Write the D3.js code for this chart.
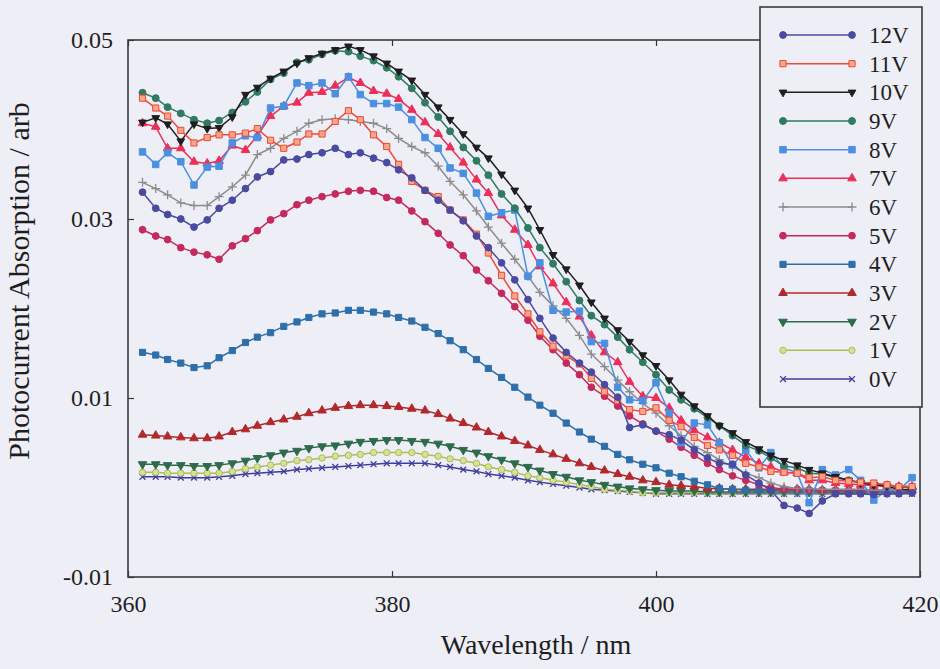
<!DOCTYPE html>
<html>
<head>
<meta charset="utf-8">
<script src="https://cdn.jsdelivr.net/npm/d3@7"></script>
<style>
  body { margin: 0; background: #eeeef7; }
  svg { display: block; }
  text { font-family: "Liberation Serif", "DejaVu Serif", serif; fill: #1e1e1e; }
</style>
</head>
<body>
<div id="chart"></div>
<script>
// wavelength of each sample (nm)
const wavelengths = [
  361.1, 362.1, 363.0, 364.0, 365.0, 366.0, 366.9, 367.9, 368.9, 369.8,
  370.8, 371.8, 372.8, 373.7, 374.7, 375.7, 376.7, 377.6, 378.6, 379.6,
  380.5, 381.5, 382.5, 383.5, 384.4, 385.4, 386.4, 387.3, 388.3, 389.3,
  390.3, 391.2, 392.2, 393.2, 394.2, 395.1, 396.1, 397.1, 398.0, 399.0,
  400.0, 401.0, 401.9, 402.9, 403.9, 404.8, 405.8, 406.8, 407.8, 408.7,
  409.7, 410.7, 411.6, 412.6, 413.6, 414.6, 415.5, 416.5, 417.5, 418.4,
  419.4
];

// photocurrent absorption, one array per bias voltage
const v12 = [
  0.0330, 0.0312, 0.0305, 0.0300, 0.0291, 0.0299, 0.0312, 0.0321, 0.0334, 0.0347,
  0.0353, 0.0366, 0.0367, 0.0372, 0.0374, 0.0379, 0.0372, 0.0374, 0.0368, 0.0363,
  0.0355, 0.0346, 0.0332, 0.0321, 0.0310, 0.0298, 0.0281, 0.0268, 0.0251, 0.0232,
  0.0210, 0.0189, 0.0167, 0.0151, 0.0139, 0.0129, 0.0115, 0.0101, 0.0067, 0.0070,
  0.0063, 0.0059, 0.0053, 0.0042, 0.0033, 0.0027, 0.0026, 0.0014, 0.0005, -0.0003,
  -0.0020, -0.0023, -0.0029, -0.0015, -0.0007, -0.0007, -0.0007, -0.0008, -0.0007, -0.0007,
  -0.0006
];
const v11 = [
  0.0435, 0.0424, 0.0415, 0.0399, 0.0385, 0.0391, 0.0394, 0.0394, 0.0396, 0.0401,
  0.0388, 0.0379, 0.0386, 0.0395, 0.0395, 0.0409, 0.0421, 0.0411, 0.0394, 0.0381,
  0.0361, 0.0342, 0.0332, 0.0325, 0.0310, 0.0299, 0.0283, 0.0262, 0.0237, 0.0214,
  0.0194, 0.0174, 0.0158, 0.0147, 0.0138, 0.0122, 0.0107, 0.0097, 0.0087, 0.0085,
  0.0089, 0.0075, 0.0068, 0.0056, 0.0047, 0.0042, 0.0036, 0.0027, 0.0023, 0.0018,
  0.0017, 0.0016, 0.0011, 0.0012, 0.0008, 0.0007, 0.0006, 0.0005, 0.0003, 0.0001,
  0.0001
];
const v10 = [
  0.0408, 0.0413, 0.0406, 0.0387, 0.0406, 0.0401, 0.0402, 0.0414, 0.0439, 0.0447,
  0.0457, 0.0465, 0.0474, 0.0480, 0.0485, 0.0489, 0.0493, 0.0489, 0.0482, 0.0474,
  0.0465, 0.0455, 0.0439, 0.0425, 0.0411, 0.0395, 0.0380, 0.0368, 0.0350, 0.0332,
  0.0312, 0.0288, 0.0260, 0.0244, 0.0226, 0.0207, 0.0189, 0.0176, 0.0163, 0.0148,
  0.0136, 0.0120, 0.0104, 0.0091, 0.0080, 0.0069, 0.0061, 0.0051, 0.0043, 0.0036,
  0.0030, 0.0025, 0.0020, 0.0016, 0.0012, 0.0008, 0.0005, 0.0003, 0.0001, -0.0002,
  -0.0003
];
const v9 = [
  0.0441, 0.0435, 0.0425, 0.0418, 0.0411, 0.0407, 0.0410, 0.0419, 0.0431, 0.0442,
  0.0456, 0.0463, 0.0475, 0.0478, 0.0484, 0.0488, 0.0487, 0.0482, 0.0477, 0.0469,
  0.0459, 0.0446, 0.0430, 0.0414, 0.0398, 0.0380, 0.0365, 0.0349, 0.0328, 0.0312,
  0.0290, 0.0268, 0.0250, 0.0230, 0.0209, 0.0192, 0.0182, 0.0168, 0.0154, 0.0140,
  0.0126, 0.0109, 0.0098, 0.0088, 0.0078, 0.0069, 0.0058, 0.0047, 0.0041, 0.0033,
  0.0024, 0.0022, 0.0016, 0.0015, 0.0011, 0.0008, 0.0006, 0.0004, 0.0003, 0.0001,
  -0.0001
];
const v8 = [
  0.0375, 0.0361, 0.0374, 0.0364, 0.0338, 0.0358, 0.0359, 0.0385, 0.0393, 0.0391,
  0.0424, 0.0426, 0.0452, 0.0449, 0.0452, 0.0440, 0.0459, 0.0439, 0.0429, 0.0429,
  0.0425, 0.0411, 0.0391, 0.0379, 0.0357, 0.0351, 0.0329, 0.0303, 0.0307, 0.0310,
  0.0236, 0.0251, 0.0198, 0.0196, 0.0197, 0.0163, 0.0161, 0.0112, 0.0098, 0.0097,
  0.0117, 0.0083, 0.0050, 0.0072, 0.0070, 0.0050, 0.0025, 0.0042, 0.0022, 0.0039,
  0.0022, 0.0016, -0.0017, 0.0020, 0.0014, 0.0020, 0.0008, -0.0014, -0.0003, -0.0003,
  0.0011
];
const v7 = [
  0.0407, 0.0403, 0.0379, 0.0379, 0.0364, 0.0362, 0.0365, 0.0382, 0.0377, 0.0393,
  0.0415, 0.0426, 0.0430, 0.0441, 0.0442, 0.0449, 0.0458, 0.0452, 0.0443, 0.0440,
  0.0434, 0.0422, 0.0408, 0.0395, 0.0380, 0.0363, 0.0344, 0.0329, 0.0304, 0.0288,
  0.0271, 0.0247, 0.0228, 0.0207, 0.0191, 0.0170, 0.0151, 0.0140, 0.0118, 0.0102,
  0.0100, 0.0089, 0.0075, 0.0064, 0.0056, 0.0050, 0.0042, 0.0034, 0.0027, 0.0023,
  0.0017, 0.0016, 0.0008, 0.0008, 0.0005, 0.0004, 0.0003, 0.0002, 0.0002, 0.0001,
  0.0001
];
const v6 = [
  0.0341, 0.0334, 0.0327, 0.0318, 0.0315, 0.0315, 0.0325, 0.0336, 0.0349, 0.0372,
  0.0379, 0.0390, 0.0398, 0.0407, 0.0411, 0.0412, 0.0411, 0.0409, 0.0407, 0.0401,
  0.0390, 0.0381, 0.0374, 0.0359, 0.0342, 0.0327, 0.0309, 0.0291, 0.0273, 0.0255,
  0.0236, 0.0218, 0.0203, 0.0189, 0.0170, 0.0149, 0.0135, 0.0120, 0.0107, 0.0094,
  0.0083, 0.0069, 0.0058, 0.0046, 0.0039, 0.0031, 0.0023, 0.0016, 0.0011, 0.0005,
  0.0001, -0.0001, -0.0001, -0.0002, -0.0002, -0.0002, -0.0002, -0.0003, -0.0003, -0.0003,
  -0.0003
];
const v5 = [
  0.0288, 0.0281, 0.0277, 0.0268, 0.0263, 0.0260, 0.0255, 0.0270, 0.0278, 0.0287,
  0.0299, 0.0306, 0.0316, 0.0321, 0.0325, 0.0328, 0.0331, 0.0332, 0.0331, 0.0324,
  0.0321, 0.0309, 0.0297, 0.0284, 0.0271, 0.0259, 0.0243, 0.0231, 0.0217, 0.0202,
  0.0187, 0.0169, 0.0154, 0.0139, 0.0126, 0.0112, 0.0102, 0.0091, 0.0080, 0.0071,
  0.0063, 0.0054, 0.0045, 0.0036, 0.0027, 0.0020, 0.0013, 0.0008, 0.0003, 0.0000,
  -0.0002, -0.0002, -0.0003, -0.0003, -0.0003, -0.0003, -0.0003, -0.0004, -0.0004, -0.0004,
  -0.0004
];
const v4 = [
  0.0151, 0.0148, 0.0143, 0.0139, 0.0134, 0.0136, 0.0145, 0.0153, 0.0162, 0.0168,
  0.0173, 0.0180, 0.0185, 0.0190, 0.0194, 0.0195, 0.0198, 0.0198, 0.0196, 0.0194,
  0.0190, 0.0186, 0.0179, 0.0172, 0.0164, 0.0154, 0.0143, 0.0133, 0.0123, 0.0112,
  0.0101, 0.0092, 0.0083, 0.0072, 0.0062, 0.0054, 0.0046, 0.0037, 0.0031, 0.0026,
  0.0022, 0.0016, 0.0012, 0.0007, 0.0003, -0.0001, -0.0002, -0.0003, -0.0003, -0.0003,
  -0.0003, -0.0004, -0.0004, -0.0004, -0.0004, -0.0004, -0.0004, -0.0004, -0.0004, -0.0004,
  -0.0004
];
const v3 = [
  0.0059, 0.0058, 0.0057, 0.0056, 0.0055, 0.0055, 0.0057, 0.0062, 0.0065, 0.0069,
  0.0073, 0.0076, 0.0079, 0.0083, 0.0086, 0.0089, 0.0091, 0.0092, 0.0092, 0.0091,
  0.0090, 0.0088, 0.0086, 0.0082, 0.0077, 0.0072, 0.0067, 0.0062, 0.0057, 0.0052,
  0.0047, 0.0042, 0.0037, 0.0032, 0.0027, 0.0023, 0.0019, 0.0015, 0.0012, 0.0008,
  0.0006, 0.0003, 0.0002, 0.0001, -0.0001, -0.0001, -0.0002, -0.0002, -0.0002, -0.0002,
  -0.0002, -0.0002, -0.0002, -0.0003, -0.0003, -0.0003, -0.0003, -0.0003, -0.0003, -0.0003,
  -0.0003
];
const v2 = [
  0.0026, 0.0026, 0.0025, 0.0025, 0.0024, 0.0024, 0.0025, 0.0027, 0.0030, 0.0033,
  0.0036, 0.0039, 0.0041, 0.0044, 0.0046, 0.0047, 0.0049, 0.0051, 0.0052, 0.0053,
  0.0053, 0.0052, 0.0051, 0.0049, 0.0046, 0.0042, 0.0039, 0.0035, 0.0031, 0.0027,
  0.0023, 0.0019, 0.0015, 0.0012, 0.0008, 0.0006, 0.0003, 0.0001, -0.0001, -0.0002,
  -0.0003, -0.0004, -0.0004, -0.0004, -0.0005, -0.0005, -0.0005, -0.0005, -0.0005, -0.0005,
  -0.0005, -0.0005, -0.0005, -0.0005, -0.0005, -0.0005, -0.0005, -0.0005, -0.0005, -0.0005,
  -0.0005
];
const v1 = [
  0.0017, 0.0017, 0.0016, 0.0016, 0.0016, 0.0016, 0.0016, 0.0018, 0.0021, 0.0023,
  0.0025, 0.0027, 0.0030, 0.0031, 0.0033, 0.0035, 0.0036, 0.0037, 0.0039, 0.0039,
  0.0039, 0.0039, 0.0037, 0.0035, 0.0032, 0.0030, 0.0027, 0.0023, 0.0020, 0.0017,
  0.0013, 0.0011, 0.0008, 0.0006, 0.0003, 0.0001, -0.0002, -0.0003, -0.0004, -0.0006,
  -0.0006, -0.0006, -0.0006, -0.0006, -0.0006, -0.0006, -0.0006, -0.0006, -0.0006, -0.0006,
  -0.0006, -0.0006, -0.0006, -0.0006, -0.0006, -0.0006, -0.0006, -0.0006, -0.0006, -0.0006,
  -0.0006
];
const v0 = [
  0.0012, 0.0012, 0.0012, 0.0011, 0.0011, 0.0011, 0.0012, 0.0013, 0.0015, 0.0016,
  0.0017, 0.0018, 0.0020, 0.0021, 0.0022, 0.0023, 0.0024, 0.0025, 0.0026, 0.0027,
  0.0027, 0.0027, 0.0027, 0.0025, 0.0023, 0.0020, 0.0018, 0.0015, 0.0013, 0.0011,
  0.0008, 0.0006, 0.0004, 0.0002, 0.0000, -0.0002, -0.0003, -0.0004, -0.0005, -0.0006,
  -0.0007, -0.0007, -0.0007, -0.0007, -0.0007, -0.0007, -0.0007, -0.0007, -0.0007, -0.0007,
  -0.0007, -0.0007, -0.0007, -0.0007, -0.0007, -0.0007, -0.0007, -0.0007, -0.0007, -0.0007,
  -0.0007
];

const seriesNames = ["12V", "11V", "10V", "9V", "8V", "7V", "6V", "5V", "4V", "3V", "2V", "1V", "0V"];
const seriesValues = [v12, v11, v10, v9, v8, v7, v6, v5, v4, v3, v2, v1, v0];
const xTicks = [360, 380, 400, 420];
const yTicks = [-0.01, 0.01, 0.03, 0.05];

const serif = '"Liberation Serif", "DejaVu Serif", serif';

// look of each series
const looks = {
  "12V": { color: "#4a4aa0", shape: d3.symbolCircle,   size: 36, fill: "#4a4aa0" },
  "11V": { color: "#ee4a34", shape: d3.symbolSquare,   size: 38, fill: "#f7a58c" },
  "10V": { color: "#1e1e1e", shape: d3.symbolTriangle, size: 26, fill: "#1e1e1e", flip: true },
  "9V":  { color: "#2f7a60", shape: d3.symbolCircle,   size: 38, fill: "#2f7a60" },
  "8V":  { color: "#4b8fe0", shape: d3.symbolSquare,   size: 42, fill: "#4b8fe0" },
  "7V":  { color: "#ea2f58", shape: d3.symbolTriangle, size: 32, fill: "#ea2f58" },
  "6V":  { color: "#8c8c8c", shape: d3.symbolPlus,     size: 28, fill: "none", stroked: true },
  "5V":  { color: "#c42a5c", shape: d3.symbolCircle,   size: 36, fill: "#c42a5c" },
  "4V":  { color: "#2f6fa9", shape: d3.symbolSquare,   size: 38, fill: "#2f6fa9" },
  "3V":  { color: "#b02a2c", shape: d3.symbolTriangle, size: 32, fill: "#b02a2c" },
  "2V":  { color: "#2e6b4c", shape: d3.symbolTriangle, size: 32, fill: "#2e6b4c", flip: true },
  "1V":  { color: "#a9bf4f", shape: d3.symbolCircle,   size: 32, fill: "#d9df9a" },
  "0V":  { color: "#3e3e9e", shape: d3.symbolTimes,    size: 24, fill: "none", stroked: true }
};

const W = 940, H = 669;
const plot = { left: 128, right: 920, top: 40, bottom: 577 };

const svg = d3.select("#chart").append("svg")
  .attr("width", W)
  .attr("height", H);

svg.append("rect")
  .attr("width", W).attr("height", H)
  .attr("fill", "#eeeef7");

const x = d3.scaleLinear().domain([360, 420]).range([plot.left, plot.right]);
const y = d3.scaleLinear().domain([-0.01, 0.05]).range([plot.bottom, plot.top]);

// ticks (pointing inwards) and tick labels
const xAxis = svg.append("g")
  .attr("transform", `translate(0,${plot.bottom})`)
  .call(d3.axisBottom(x).tickValues(xTicks).tickSize(-6).tickPadding(18).tickFormat(d3.format("d")));
const xTop = svg.append("g")
  .attr("transform", `translate(0,${plot.top})`)
  .call(d3.axisTop(x).tickValues(xTicks).tickSize(-6).tickFormat(""));
const yAxis = svg.append("g")
  .attr("transform", `translate(${plot.left},0)`)
  .call(d3.axisLeft(y).tickValues(yTicks).tickSize(-6).tickPadding(15).tickFormat(d => d3.format(".2f")(d).replace("−", "-")));

[xAxis, xTop, yAxis].forEach(g => {
  g.attr("font-family", serif);
  g.select(".domain").remove();
  g.selectAll(".tick line").attr("stroke", "#333").attr("stroke-width", 1.2);
  g.selectAll(".tick text").attr("font-size", 24).attr("fill", "#1e1e1e")
    .attr("font-family", serif);
});

// series, drawn lowest voltage first
const line = d3.line()
  .x((d, i) => x(wavelengths[i]))
  .y(d => y(d));

function drawMarker(g, look, px, py) {
  const m = g.append("path")
    .attr("d", d3.symbol().type(look.shape).size(look.size)())
    .attr("transform", `translate(${px},${py})` + (look.flip ? " rotate(180)" : ""));
  if (look.stroked) {
    m.attr("fill", "none").attr("stroke", look.color).attr("stroke-width", 1.3);
  } else {
    m.attr("fill", look.fill).attr("stroke", look.color).attr("stroke-width", 1);
  }
}

const series = seriesNames.map((name, k) => ({ name, values: seriesValues[k] }));

series.slice().reverse().forEach(s => {
  const look = looks[s.name];
  const g = svg.append("g").attr("class", "series");
  g.append("path")
    .attr("d", line(s.values))
    .attr("fill", "none")
    .attr("stroke", look.color)
    .attr("stroke-width", 1.5);
  s.values.forEach((v, i) => drawMarker(g, look, x(wavelengths[i]), y(v)));
});

// frame
svg.append("rect")
  .attr("x", plot.left).attr("y", plot.top)
  .attr("width", plot.right - plot.left)
  .attr("height", plot.bottom - plot.top)
  .attr("fill", "none")
  .attr("stroke", "#3a3a3a")
  .attr("stroke-width", 1.6);

// legend
const legend = svg.append("g").attr("font-family", serif);
legend.append("rect")
  .attr("x", 760).attr("y", 7)
  .attr("width", 162).attr("height", 400)
  .attr("fill", "#eeeef7")
  .attr("stroke", "#3a3a3a")
  .attr("stroke-width", 1.6);

series.forEach((s, k) => {
  const look = looks[s.name];
  const ly = 35 + k * 28.67;
  const row = legend.append("g");
  row.append("line")
    .attr("x1", 783).attr("x2", 852)
    .attr("y1", ly).attr("y2", ly)
    .attr("stroke", look.color)
    .attr("stroke-width", 1.5);
  drawMarker(row, look, 783, ly);
  drawMarker(row, look, 852, ly);
  row.append("text")
    .attr("x", 869).attr("y", ly)
    .attr("dy", "0.35em")
    .attr("font-size", 23)
    .attr("font-family", serif)
    .text(s.name);
});

// axis titles
svg.append("text")
  .attr("x", 536).attr("y", 654)
  .attr("text-anchor", "middle")
  .attr("font-size", 28)
  .attr("font-family", serif)
  .text("Wavelength / nm");

svg.append("text")
  .attr("transform", "translate(29,281) rotate(-90)")
  .attr("text-anchor", "middle")
  .attr("font-size", 30)
  .attr("font-family", serif)
  .text("Photocurrent Absorption / arb");
</script>
</body>
</html>
